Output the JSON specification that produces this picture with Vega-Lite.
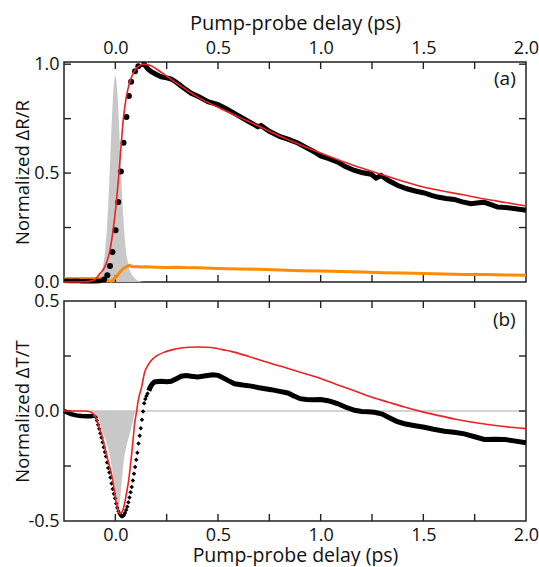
{
  "$schema": "https://vega.github.io/schema/vega-lite/v6.json",
  "padding": {"left": 12, "top": 12, "right": 0, "bottom": 0},
  "spacing": 19,
  "bounds": "flush",
  "config": {
    "view": {"stroke": "#222", "strokeWidth": 1.5},
    "font": "Open Sans",
    "scale": {"continuousPadding": 0},
    "axis": {
      "grid": false, "domain": false, "ticks": false, "tickSize": 0, "labelPadding": 5, "labelFontSize": 18, "labelColor": "#111",
      "titleFontSize": 18.5, "titleFontWeight": "normal", "titleColor": "#111",
      "labelOverlap": false, "labelFlush": false, "minExtent": 0
    }
  },
  "datasets": {
    "ticksAv": [
      {"t": 0, "v": 0, "v2": 0.032}, {"t": 0.25, "v": 0, "v2": 0.032}, {"t": 0.5, "v": 0, "v2": 0.032}, {"t": 0.75, "v": 0, "v2": 0.032},
      {"t": 1, "v": 0, "v2": 0.032}, {"t": 1.25, "v": 0, "v2": 0.032}, {"t": 1.5, "v": 0, "v2": 0.032}, {"t": 1.75, "v": 0, "v2": 0.032},
      {"t": 0, "v": 0.978, "v2": 1.01}, {"t": 0.25, "v": 0.978, "v2": 1.01}, {"t": 0.5, "v": 0.978, "v2": 1.01}, {"t": 0.75, "v": 0.978, "v2": 1.01},
      {"t": 1, "v": 0.978, "v2": 1.01}, {"t": 1.25, "v": 0.978, "v2": 1.01}, {"t": 1.5, "v": 0.978, "v2": 1.01}, {"t": 1.75, "v": 0.978, "v2": 1.01}
    ],
    "ticksAh": [
      {"t": -0.25, "t2": -0.216, "v": 0.25}, {"t": -0.25, "t2": -0.216, "v": 0.5}, {"t": -0.25, "t2": -0.216, "v": 0.75}, {"t": -0.25, "t2": -0.216, "v": 1.0},
      {"t": 1.966, "t2": 2, "v": 0.25}, {"t": 1.966, "t2": 2, "v": 0.5}, {"t": 1.966, "t2": 2, "v": 0.75}, {"t": 1.966, "t2": 2, "v": 1.0}
    ],
    "ticksBv": [
      {"t": 0, "v": -0.5, "v2": -0.468}, {"t": 0.25, "v": -0.5, "v2": -0.468}, {"t": 0.5, "v": -0.5, "v2": -0.468}, {"t": 0.75, "v": -0.5, "v2": -0.468},
      {"t": 1, "v": -0.5, "v2": -0.468}, {"t": 1.25, "v": -0.5, "v2": -0.468}, {"t": 1.5, "v": -0.5, "v2": -0.468}, {"t": 1.75, "v": -0.5, "v2": -0.468},
      {"t": 0, "v": 0.468, "v2": 0.5}, {"t": 0.25, "v": 0.468, "v2": 0.5}, {"t": 0.5, "v": 0.468, "v2": 0.5}, {"t": 0.75, "v": 0.468, "v2": 0.5},
      {"t": 1, "v": 0.468, "v2": 0.5}, {"t": 1.25, "v": 0.468, "v2": 0.5}, {"t": 1.5, "v": 0.468, "v2": 0.5}, {"t": 1.75, "v": 0.468, "v2": 0.5}
    ],
    "ticksBh": [
      {"t": -0.25, "t2": -0.216, "v": -0.25}, {"t": -0.25, "t2": -0.216, "v": 0}, {"t": -0.25, "t2": -0.216, "v": 0.25},
      {"t": 1.966, "t2": 2, "v": -0.25}, {"t": 1.966, "t2": 2, "v": 0}, {"t": 1.966, "t2": 2, "v": 0.25}
    ],
    "zeroB": [{"t": -0.25, "v": 0}, {"t": 2, "v": 0}],
    "pumpA": [
      {"t": -0.1, "v": 0}, {"t": -0.09, "v": 0.008}, {"t": -0.08, "v": 0.018}, {"t": -0.07, "v": 0.04}, {"t": -0.06, "v": 0.075},
      {"t": -0.05, "v": 0.14}, {"t": -0.04, "v": 0.26}, {"t": -0.03, "v": 0.45}, {"t": -0.02, "v": 0.68}, {"t": -0.01, "v": 0.87},
      {"t": 0.0, "v": 0.948}, {"t": 0.01, "v": 0.87}, {"t": 0.02, "v": 0.68}, {"t": 0.03, "v": 0.46}, {"t": 0.04, "v": 0.28},
      {"t": 0.05, "v": 0.16}, {"t": 0.06, "v": 0.095}, {"t": 0.07, "v": 0.055}, {"t": 0.08, "v": 0.035}, {"t": 0.09, "v": 0.022},
      {"t": 0.1, "v": 0.013}, {"t": 0.11, "v": 0.007}, {"t": 0.12, "v": 0.003}, {"t": 0.14, "v": 0}
    ],
    "orangeA": [
      {"t": -0.25, "v": 0.015}, {"t": -0.22, "v": 0.016}, {"t": -0.19, "v": 0.015}, {"t": -0.16, "v": 0.016}, {"t": -0.13, "v": 0.015},
      {"t": -0.1, "v": 0.016}, {"t": -0.07, "v": 0.015}, {"t": -0.05, "v": 0.014}, {"t": -0.04, "v": 0.01}, {"t": -0.03, "v": 0.005},
      {"t": -0.02, "v": 0.004}, {"t": -0.01, "v": 0.01}, {"t": 0.0, "v": 0.02}, {"t": 0.01, "v": 0.03}, {"t": 0.02, "v": 0.043},
      {"t": 0.03, "v": 0.054}, {"t": 0.04, "v": 0.062}, {"t": 0.05, "v": 0.068}, {"t": 0.06, "v": 0.073}, {"t": 0.07, "v": 0.077},
      {"t": 0.08, "v": 0.071}, {"t": 0.09, "v": 0.07}, {"t": 0.1, "v": 0.071}, {"t": 0.12, "v": 0.069}, {"t": 0.15, "v": 0.07},
      {"t": 0.2, "v": 0.068}, {"t": 0.25, "v": 0.067}, {"t": 0.3, "v": 0.068}, {"t": 0.35, "v": 0.066}, {"t": 0.4, "v": 0.065},
      {"t": 0.5, "v": 0.062}, {"t": 0.6, "v": 0.06}, {"t": 0.7, "v": 0.058}, {"t": 0.8, "v": 0.055}, {"t": 0.9, "v": 0.052},
      {"t": 1.0, "v": 0.05}, {"t": 1.1, "v": 0.048}, {"t": 1.2, "v": 0.046}, {"t": 1.3, "v": 0.043}, {"t": 1.4, "v": 0.041},
      {"t": 1.5, "v": 0.039}, {"t": 1.6, "v": 0.037}, {"t": 1.7, "v": 0.035}, {"t": 1.8, "v": 0.034}, {"t": 1.9, "v": 0.032}, {"t": 2.0, "v": 0.031}
    ],
    "blackA": [
      {"t": -0.25, "v": 0.006}, {"t": -0.22, "v": 0.005}, {"t": -0.19, "v": 0.006}, {"t": -0.16, "v": 0.004}, {"t": -0.13, "v": 0.005},
      {"t": -0.1, "v": 0.004}, {"t": -0.08, "v": 0.005}, {"t": -0.065, "v": 0.006},
      {"t": -0.055, "v": 0.012}, {"t": -0.039, "v": 0.031}, {"t": -0.026, "v": 0.073}, {"t": -0.014, "v": 0.138}, {"t": 0.001, "v": 0.238},
      {"t": 0.014, "v": 0.367}, {"t": 0.027, "v": 0.507}, {"t": 0.04, "v": 0.639}, {"t": 0.054, "v": 0.757}, {"t": 0.066, "v": 0.854},
      {"t": 0.077, "v": 0.919}, {"t": 0.096, "v": 0.967}, {"t": 0.112, "v": 0.99},
      {"t": 0.127, "v": 1.0}, {"t": 0.143, "v": 0.997}, {"t": 0.16, "v": 0.977}, {"t": 0.175, "v": 0.966}, {"t": 0.2, "v": 0.953},
      {"t": 0.224, "v": 0.942}, {"t": 0.25, "v": 0.937}, {"t": 0.272, "v": 0.932}, {"t": 0.297, "v": 0.917}, {"t": 0.33, "v": 0.893},
      {"t": 0.37, "v": 0.866}, {"t": 0.41, "v": 0.849}, {"t": 0.451, "v": 0.828}, {"t": 0.5, "v": 0.815}, {"t": 0.54, "v": 0.795},
      {"t": 0.597, "v": 0.765}, {"t": 0.65, "v": 0.736}, {"t": 0.694, "v": 0.713}, {"t": 0.71, "v": 0.718}, {"t": 0.75, "v": 0.692},
      {"t": 0.8, "v": 0.668}, {"t": 0.84, "v": 0.656}, {"t": 0.889, "v": 0.638}, {"t": 0.93, "v": 0.617}, {"t": 0.97, "v": 0.597},
      {"t": 1.0, "v": 0.578}, {"t": 1.04, "v": 0.566}, {"t": 1.084, "v": 0.55}, {"t": 1.12, "v": 0.53}, {"t": 1.165, "v": 0.512},
      {"t": 1.2, "v": 0.503}, {"t": 1.246, "v": 0.495}, {"t": 1.27, "v": 0.477}, {"t": 1.294, "v": 0.489}, {"t": 1.33, "v": 0.466},
      {"t": 1.376, "v": 0.443}, {"t": 1.42, "v": 0.428}, {"t": 1.46, "v": 0.418}, {"t": 1.5, "v": 0.41}, {"t": 1.54, "v": 0.398},
      {"t": 1.57, "v": 0.39}, {"t": 1.61, "v": 0.383}, {"t": 1.651, "v": 0.379}, {"t": 1.69, "v": 0.368}, {"t": 1.732, "v": 0.359},
      {"t": 1.77, "v": 0.364}, {"t": 1.797, "v": 0.366}, {"t": 1.83, "v": 0.355}, {"t": 1.862, "v": 0.344}, {"t": 1.9, "v": 0.342},
      {"t": 1.95, "v": 0.336}, {"t": 2.0, "v": 0.329}
    ],
    "fitA": [
      {"t": -0.25, "v": 0}, {"t": -0.15, "v": 0.001}, {"t": -0.12, "v": 0.004}, {"t": -0.1, "v": 0.011}, {"t": -0.09, "v": 0.02},
      {"t": -0.076, "v": 0.038}, {"t": -0.05, "v": 0.072}, {"t": -0.028, "v": 0.138}, {"t": -0.011, "v": 0.237}, {"t": 0.005, "v": 0.366},
      {"t": 0.018, "v": 0.505}, {"t": 0.029, "v": 0.638}, {"t": 0.04, "v": 0.757}, {"t": 0.054, "v": 0.852}, {"t": 0.07, "v": 0.917},
      {"t": 0.094, "v": 0.97}, {"t": 0.112, "v": 0.99}, {"t": 0.13, "v": 0.999}, {"t": 0.145, "v": 1.0}, {"t": 0.16, "v": 0.997},
      {"t": 0.18, "v": 0.99}, {"t": 0.2, "v": 0.978}, {"t": 0.25, "v": 0.945}, {"t": 0.3, "v": 0.912}, {"t": 0.35, "v": 0.88},
      {"t": 0.4, "v": 0.85}, {"t": 0.5, "v": 0.802}, {"t": 0.6, "v": 0.758}, {"t": 0.7, "v": 0.715}, {"t": 0.8, "v": 0.67},
      {"t": 0.9, "v": 0.63}, {"t": 1.0, "v": 0.592}, {"t": 1.1, "v": 0.556}, {"t": 1.2, "v": 0.523}, {"t": 1.3, "v": 0.492},
      {"t": 1.4, "v": 0.463}, {"t": 1.5, "v": 0.436}, {"t": 1.6, "v": 0.417}, {"t": 1.7, "v": 0.399}, {"t": 1.8, "v": 0.381},
      {"t": 1.9, "v": 0.365}, {"t": 2.0, "v": 0.349}
    ],
    "pumpB": [
      {"t": -0.11, "v": 0}, {"t": -0.1, "v": -0.012}, {"t": -0.08, "v": -0.035}, {"t": -0.065, "v": -0.088}, {"t": -0.05, "v": -0.125},
      {"t": -0.036, "v": -0.164}, {"t": -0.02, "v": -0.24}, {"t": -0.008, "v": -0.315}, {"t": 0.0, "v": -0.38}, {"t": 0.01, "v": -0.44},
      {"t": 0.015, "v": -0.445}, {"t": 0.022, "v": -0.41}, {"t": 0.032, "v": -0.315}, {"t": 0.042, "v": -0.22}, {"t": 0.053, "v": -0.164},
      {"t": 0.065, "v": -0.12}, {"t": 0.075, "v": -0.088}, {"t": 0.085, "v": -0.05}, {"t": 0.094, "v": -0.012}, {"t": 0.102, "v": 0}
    ],
    "blackB": [
      {"t": -0.25, "v": 0.0}, {"t": -0.235, "v": -0.006}, {"t": -0.215, "v": -0.014}, {"t": -0.19, "v": -0.02}, {"t": -0.165, "v": -0.023},
      {"t": -0.14, "v": -0.024}, {"t": -0.12, "v": -0.024}, {"t": -0.105, "v": -0.022},
      {"t": -0.095, "v": -0.028}, {"t": -0.0895, "v": -0.043}, {"t": -0.084, "v": -0.062}, {"t": -0.0785, "v": -0.081}, {"t": -0.073, "v": -0.101},
      {"t": -0.0675, "v": -0.12}, {"t": -0.062, "v": -0.142}, {"t": -0.0565, "v": -0.165}, {"t": -0.051, "v": -0.186}, {"t": -0.0455, "v": -0.207},
      {"t": -0.04, "v": -0.234}, {"t": -0.0345, "v": -0.259}, {"t": -0.029, "v": -0.28}, {"t": -0.0235, "v": -0.302}, {"t": -0.018, "v": -0.33},
      {"t": -0.0125, "v": -0.355}, {"t": -0.007, "v": -0.376}, {"t": -0.0015, "v": -0.397}, {"t": 0.004, "v": -0.42}, {"t": 0.0095, "v": -0.44},
      {"t": 0.015, "v": -0.456}, {"t": 0.0205, "v": -0.467}, {"t": 0.026, "v": -0.475}, {"t": 0.031, "v": -0.479}, {"t": 0.036, "v": -0.478},
      {"t": 0.0415, "v": -0.474}, {"t": 0.047, "v": -0.464}, {"t": 0.0525, "v": -0.45}, {"t": 0.058, "v": -0.435}, {"t": 0.0635, "v": -0.415},
      {"t": 0.069, "v": -0.393}, {"t": 0.0745, "v": -0.369}, {"t": 0.08, "v": -0.345}, {"t": 0.0855, "v": -0.316}, {"t": 0.091, "v": -0.285},
      {"t": 0.0965, "v": -0.255}, {"t": 0.102, "v": -0.222}, {"t": 0.1075, "v": -0.19}, {"t": 0.113, "v": -0.148}, {"t": 0.1185, "v": -0.113},
      {"t": 0.124, "v": -0.078}, {"t": 0.1295, "v": -0.04}, {"t": 0.135, "v": -0.002}, {"t": 0.1405, "v": 0.035}, {"t": 0.146, "v": 0.055},
      {"t": 0.1515, "v": 0.068}, {"t": 0.157, "v": 0.08},
      {"t": 0.163, "v": 0.092}, {"t": 0.17, "v": 0.108}, {"t": 0.18, "v": 0.123}, {"t": 0.191, "v": 0.132}, {"t": 0.208, "v": 0.134},
      {"t": 0.224, "v": 0.135}, {"t": 0.25, "v": 0.133}, {"t": 0.272, "v": 0.135}, {"t": 0.3, "v": 0.148}, {"t": 0.321, "v": 0.158},
      {"t": 0.345, "v": 0.161}, {"t": 0.37, "v": 0.158}, {"t": 0.402, "v": 0.155}, {"t": 0.44, "v": 0.16}, {"t": 0.475, "v": 0.165},
      {"t": 0.5, "v": 0.162}, {"t": 0.516, "v": 0.155}, {"t": 0.55, "v": 0.138}, {"t": 0.581, "v": 0.124}, {"t": 0.62, "v": 0.118},
      {"t": 0.662, "v": 0.113}, {"t": 0.7, "v": 0.106}, {"t": 0.759, "v": 0.097}, {"t": 0.8, "v": 0.089}, {"t": 0.84, "v": 0.082},
      {"t": 0.87, "v": 0.068}, {"t": 0.9, "v": 0.056}, {"t": 0.93, "v": 0.052}, {"t": 0.96, "v": 0.051}, {"t": 1.0, "v": 0.052},
      {"t": 1.035, "v": 0.047}, {"t": 1.06, "v": 0.04}, {"t": 1.084, "v": 0.033}, {"t": 1.12, "v": 0.018}, {"t": 1.165, "v": 0.003},
      {"t": 1.2, "v": -0.002}, {"t": 1.23, "v": -0.003}, {"t": 1.262, "v": -0.006}, {"t": 1.3, "v": -0.014}, {"t": 1.327, "v": -0.027},
      {"t": 1.37, "v": -0.047}, {"t": 1.408, "v": -0.058}, {"t": 1.46, "v": -0.067}, {"t": 1.505, "v": -0.074}, {"t": 1.55, "v": -0.083},
      {"t": 1.603, "v": -0.092}, {"t": 1.65, "v": -0.097}, {"t": 1.7, "v": -0.104}, {"t": 1.75, "v": -0.117}, {"t": 1.797, "v": -0.129},
      {"t": 1.85, "v": -0.128}, {"t": 1.894, "v": -0.129}, {"t": 1.95, "v": -0.137}, {"t": 2.0, "v": -0.144}
    ],
    "fitB": [
      {"t": -0.25, "v": 0}, {"t": -0.15, "v": 0}, {"t": -0.12, "v": -0.005}, {"t": -0.1, "v": -0.02}, {"t": -0.09, "v": -0.04},
      {"t": -0.08, "v": -0.07}, {"t": -0.068, "v": -0.103}, {"t": -0.05, "v": -0.17}, {"t": -0.035, "v": -0.228}, {"t": -0.019, "v": -0.285},
      {"t": -0.005, "v": -0.36}, {"t": 0.005, "v": -0.421}, {"t": 0.015, "v": -0.455}, {"t": 0.026, "v": -0.467}, {"t": 0.035, "v": -0.455},
      {"t": 0.045, "v": -0.421}, {"t": 0.055, "v": -0.37}, {"t": 0.065, "v": -0.315}, {"t": 0.072, "v": -0.26}, {"t": 0.078, "v": -0.209},
      {"t": 0.086, "v": -0.135}, {"t": 0.094, "v": -0.058}, {"t": 0.104, "v": 0.0}, {"t": 0.11, "v": 0.04}, {"t": 0.118, "v": 0.075},
      {"t": 0.127, "v": 0.105}, {"t": 0.143, "v": 0.177}, {"t": 0.16, "v": 0.21}, {"t": 0.175, "v": 0.23}, {"t": 0.2, "v": 0.25},
      {"t": 0.24, "v": 0.268}, {"t": 0.28, "v": 0.279}, {"t": 0.321, "v": 0.286}, {"t": 0.36, "v": 0.29}, {"t": 0.402, "v": 0.291},
      {"t": 0.44, "v": 0.29}, {"t": 0.483, "v": 0.286}, {"t": 0.52, "v": 0.279}, {"t": 0.564, "v": 0.271}, {"t": 0.65, "v": 0.248},
      {"t": 0.727, "v": 0.225}, {"t": 0.8, "v": 0.205}, {"t": 0.889, "v": 0.18}, {"t": 0.95, "v": 0.162}, {"t": 1.0, "v": 0.148},
      {"t": 1.084, "v": 0.118}, {"t": 1.15, "v": 0.097}, {"t": 1.246, "v": 0.064}, {"t": 1.33, "v": 0.04}, {"t": 1.408, "v": 0.018},
      {"t": 1.5, "v": -0.005}, {"t": 1.57, "v": -0.02}, {"t": 1.65, "v": -0.036}, {"t": 1.732, "v": -0.05}, {"t": 1.85, "v": -0.066},
      {"t": 2.0, "v": -0.08}
    ],
    "tagA": [{"t": 1.95, "v": 0.93, "label": "(a)"}],
    "tagB": [{"t": 1.95, "v": 0.415, "label": "(b)"}]
  },
  "vconcat": [
    {
      "width": 462, "height": 220,
      "resolve": {"axis": {"x": "independent", "y": "independent"}},
      "encoding": {
        "x": {"field": "t", "type": "quantitative", "scale": {"domain": [-0.25, 2], "nice": false, "zero": false, "padding": 0}, "axis": null},
        "y": {"field": "v", "type": "quantitative", "scale": {"domain": [0, 1.01], "nice": false, "zero": false, "padding": 0}, "axis": null}
      },
      "layer": [
        {
          "data": {"name": "pumpA"},
          "mark": {"type": "area", "color": "#c8c8c8", "interpolate": "monotone"},
          "encoding": {
            "x": {"field": "t", "type": "quantitative", "scale": {"domain": [-0.25, 2], "nice": false, "zero": false, "padding": 0},
              "axis": {"orient": "top", "values": [0, 0.5, 1, 1.5, 2], "format": ".1f", "title": "Pump-probe delay (ps)",
                "titleFontSize": 20, "titleY": -29}},
            "y": {"field": "v", "type": "quantitative", "scale": {"domain": [0, 1.01], "nice": false, "zero": false, "padding": 0},
              "axis": {"orient": "left", "values": [0, 0.5, 1], "format": ".1f", "title": "Normalized ΔR/R", "titleX": -32}}
          }
        },
        {
          "data": {"name": "ticksAv"},
          "mark": {"type": "bar", "color": "#222", "size": 1.4, "orient": "vertical"},
          "encoding": {"y2": {"field": "v2"}}
        },
        {
          "data": {"name": "ticksAh"},
          "mark": {"type": "bar", "color": "#222", "size": 1.4, "orient": "horizontal"},
          "encoding": {"x2": {"field": "t2"}}
        },
        {
          "data": {"name": "orangeA"},
          "mark": {"type": "line", "color": "#ff8c00", "strokeWidth": 3},
          "encoding": {}
        },
        {
          "data": {"name": "blackA"},
          "transform": [{"filter": "datum.t <= -0.06"}],
          "mark": {"type": "line", "color": "#000", "strokeWidth": 4.5},
          "encoding": {}
        },
        {
          "data": {"name": "blackA"},
          "transform": [{"filter": "datum.t >= 0.12"}],
          "mark": {"type": "line", "color": "#000", "strokeWidth": 5},
          "encoding": {}
        },
        {
          "data": {"name": "blackA"},
          "transform": [{"filter": "datum.t > -0.06 && datum.t < 0.12"}],
          "mark": {"type": "circle", "color": "#000", "size": 36, "opacity": 1},
          "encoding": {}
        },
        {
          "data": {"name": "fitA"},
          "mark": {"type": "line", "color": "#ee2020", "strokeWidth": 1.6, "interpolate": "monotone"},
          "encoding": {}
        },
        {
          "data": {"name": "tagA"},
          "mark": {"type": "text", "align": "right", "baseline": "middle", "fontSize": 19, "color": "#111"},
          "encoding": {"text": {"field": "label"}}
        }
      ]
    },
    {
      "width": 462, "height": 220,
      "resolve": {"axis": {"x": "independent", "y": "independent"}},
      "encoding": {
        "x": {"field": "t", "type": "quantitative", "scale": {"domain": [-0.25, 2], "nice": false, "zero": false, "padding": 0}, "axis": null},
        "y": {"field": "v", "type": "quantitative", "scale": {"domain": [-0.5, 0.5], "nice": false, "zero": false, "padding": 0}, "axis": null}
      },
      "layer": [
        {
          "data": {"name": "pumpB"},
          "mark": {"type": "area", "color": "#c8c8c8", "interpolate": "monotone"},
          "encoding": {
            "x": {"field": "t", "type": "quantitative", "scale": {"domain": [-0.25, 2], "nice": false, "zero": false, "padding": 0},
              "axis": {"orient": "bottom", "values": [0, 0.5, 1, 1.5, 2], "format": ".1f", "title": "Pump-probe delay (ps)",
                "titleFontSize": 19.5, "titleY": 25}},
            "y": {"field": "v", "type": "quantitative", "scale": {"domain": [-0.5, 0.5], "nice": false, "zero": false, "padding": 0},
              "axis": {"orient": "left", "values": [-0.5, 0, 0.5], "title": "Normalized ΔT/T", "titleX": -32,
                "labelExpr": "(datum.value < 0 ? '-' : '') + format(abs(datum.value), '.1f')"}}
          }
        },
        {
          "data": {"name": "zeroB"},
          "mark": {"type": "line", "color": "#c4c4c4", "strokeWidth": 1.5},
          "encoding": {}
        },
        {
          "data": {"name": "ticksBv"},
          "mark": {"type": "bar", "color": "#222", "size": 1.4, "orient": "vertical"},
          "encoding": {"y2": {"field": "v2"}}
        },
        {
          "data": {"name": "ticksBh"},
          "mark": {"type": "bar", "color": "#222", "size": 1.4, "orient": "horizontal"},
          "encoding": {"x2": {"field": "t2"}}
        },
        {
          "data": {"name": "blackB"},
          "transform": [{"filter": "datum.t <= -0.1"}],
          "mark": {"type": "line", "color": "#000", "strokeWidth": 4.5},
          "encoding": {}
        },
        {
          "data": {"name": "blackB"},
          "transform": [{"filter": "datum.t >= 0.16"}],
          "mark": {"type": "line", "color": "#000", "strokeWidth": 5},
          "encoding": {}
        },
        {
          "data": {"name": "blackB"},
          "transform": [{"filter": "datum.t > -0.1 && datum.t < 0.16"}],
          "mark": {"type": "point", "shape": "diamond", "filled": true, "color": "#000", "size": 20, "opacity": 1},
          "encoding": {}
        },
        {
          "data": {"name": "fitB"},
          "mark": {"type": "line", "color": "#ee2020", "strokeWidth": 1.6, "interpolate": "monotone"},
          "encoding": {}
        },
        {
          "data": {"name": "tagB"},
          "mark": {"type": "text", "align": "right", "baseline": "middle", "fontSize": 19, "color": "#111"},
          "encoding": {"text": {"field": "label"}}
        }
      ]
    }
  ]
}
